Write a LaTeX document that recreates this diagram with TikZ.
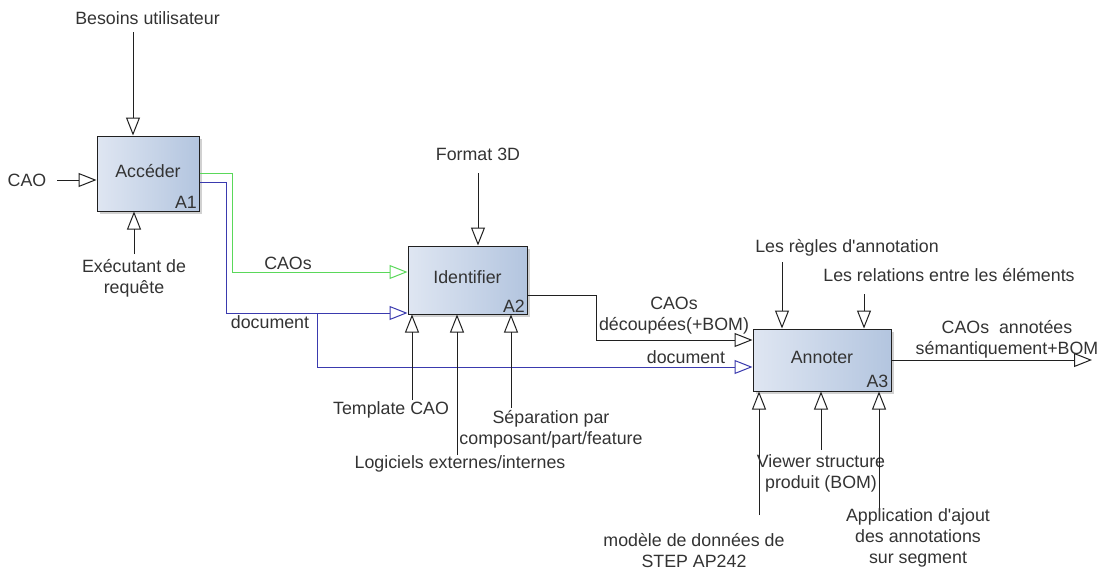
\documentclass[tikz,border=0pt]{standalone}
\usepackage{fontspec}
\setmainfont{Liberation Sans}
\usetikzlibrary{arrows.meta,shadows,calc}
\definecolor{txt}{HTML}{333333}
\definecolor{boxl}{HTML}{DFE6F2}
\definecolor{boxd}{HTML}{B3C5DF}
\definecolor{gline}{HTML}{5AD85A}
\definecolor{bline}{HTML}{3A3AAE}
\definecolor{lline}{HTML}{202020}
\begin{document}
\begin{tikzpicture}[x=1pt,y=-1pt,
  every node/.style={font=\fontsize{17.8}{21}\selectfont, text=txt, inner sep=0pt},
  actbox/.style={draw=lline, line width=1pt, left color=boxl, right color=boxd,
    text height=0.85em, text depth=0.15em,
    drop shadow={shadow xshift=2.5pt, shadow yshift=-2.5pt, fill=black!45, opacity=0.4}},
  lbl/.style={anchor=base},
  mlbl/.style={anchor=center, align=center},
  idx/.style={anchor=base east},
  opentip/.style={-{Triangle[open, length=18pt, width=14pt, line width=1pt]}},
  flow/.style={draw=lline, line width=0.9pt, opentip},
  gflow/.style={draw=gline, line width=0.9pt, opentip},
  bflow/.style={draw=bline, line width=0.9pt, opentip}
]
\useasboundingbox (0,0) rectangle (1105,570);

% activity boxes
\node[actbox, minimum width=102pt, minimum height=75pt] (A1) at (148,173.5) {Accéder};
\node[idx] (A1i) at ([xshift=-2.5pt,yshift=3pt]A1.south east) {A1};
\node[actbox, minimum width=119pt, minimum height=68pt] (I) at (467.5,280) {Identifier};
\node[idx] (Ii) at ([xshift=-2.5pt,yshift=2pt]I.south east) {A2};
\node[actbox, minimum width=138pt, minimum height=62pt] (An) at (822,360) {Annoter};
\node[idx] (Ani) at ([xshift=-3pt,yshift=4pt]An.south east) {A3};

% A1 inputs / controls / mechanisms
\node[lbl] (besoins) at (147.5,24.5) {Besoins utilisateur};
\coordinate (t1) at (133,32);
\draw[flow] (t1) -- (t1 |- A1.north);
\node[lbl] (cao) at (27,186) {CAO};
\coordinate (c1) at (57,180);
\draw[flow] (c1) -- (c1 -| A1.west);
\node[mlbl] (exec) at (134,278) {Exécutant de\\requête};
\coordinate (e1) at (134,254);
\draw[flow] (e1) -- (e1 |- A1.south);

% A1 outputs
\draw[gflow] (A1.east) -- ++(33,0) |- ([yshift=8pt]I.west);
\node[lbl] (caos) at (288,269) {CAOs};
\draw[bflow] ([yshift=-8.5pt]A1.east) -- ++(27,0) |- ([yshift=-33pt]I.west);
\node[lbl] (doc1) at (270,328) {document};
\coordinate (j1) at (317,313);
\draw[bflow] (j1) |- ([yshift=-7pt]An.west);
\node[lbl] (doc2) at (686,363) {document};

% A2 control / mechanisms
\node[lbl] (fmt) at (478,160) {Format 3D};
\coordinate (f1) at (478,173);
\draw[flow] (f1) -- (f1 |- I.north);
\coordinate (tp) at (412,400);
\draw[flow] (tp) -- (tp |- I.south);
\node[lbl] (tpl) at (391,414) {Template CAO};
\coordinate (lg) at (457,455);
\draw[flow] (lg) -- (lg |- I.south);
\node[lbl] (logi) at (460,468) {Logiciels externes/internes};
\coordinate (sp) at (511,408);
\draw[flow] (sp) -- (sp |- I.south);
\node[mlbl] (sep) at (551,429) {Séparation par\\composant/part/feature};

% A2 -> A3
\draw[flow] ([yshift=-15pt]I.east) -- ++(69,0) |- ([yshift=20pt]An.west);
\node[mlbl] (decoup) at (674,316) {CAOs\\découpées(+BOM)};

% A3 controls
\node[lbl] (regles) at (847,252) {Les règles d\textquotesingle annotation};
\coordinate (r1) at (782,262);
\draw[flow] (r1) -- (r1 |- An.north);
\node[lbl] (rel) at (949,281) {Les relations entre les éléments};
\coordinate (r2) at (864,294);
\draw[flow] (r2) -- (r2 |- An.north);

% A3 mechanisms
\coordinate (m1) at (759,515);
\draw[flow] (m1) -- (m1 |- An.south);
\node[mlbl] (model) at (694,550.5) {modèle de données de\\STEP AP242};
\coordinate (v1) at (821,450);
\draw[flow] (v1) -- (v1 |- An.south);
\node[mlbl] (viewer) at (821,473) {Viewer structure\\produit (BOM)};
\coordinate (ap) at (879,512);
\draw[flow] (ap) -- (ap |- An.south);
\node[mlbl] (appli) at (918,538) {Application d\textquotesingle ajout\\des annotations\\sur segment};

% A3 output
\coordinate (out) at (1092,360);
\draw[flow] (An.east) -- (out);
\node[mlbl] (res) at (1007,339) {CAOs~ annotées\\sémantiquement+BOM};
\end{tikzpicture}
\end{document}
